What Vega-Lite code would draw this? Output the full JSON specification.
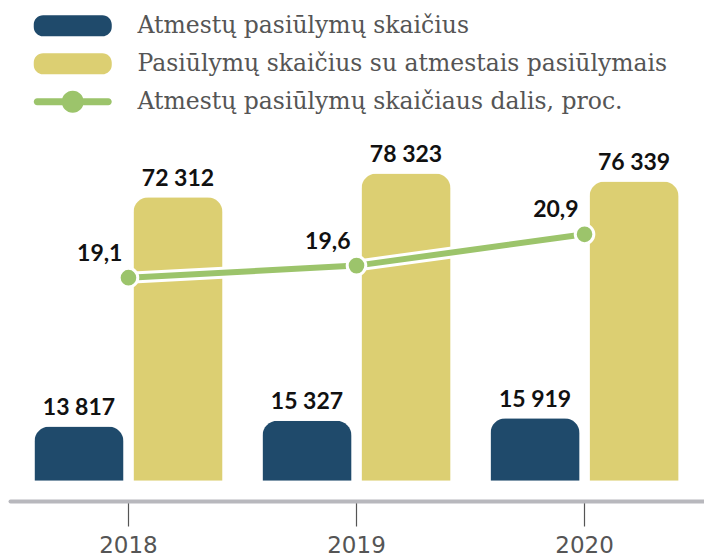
{
  "$schema": "https://vega.github.io/schema/vega-lite/v6.json",
  "width": 693,
  "height": 370,
  "autosize": {"type": "none"},
  "padding": {"left": 10, "top": 129, "right": 1, "bottom": 60},
  "config": {
    "view": {"stroke": null},
    "locale": {"number": {"decimal": ",", "thousands": " ", "grouping": [3], "currency": ["", " €"]}},
    "axisX": {
      "domainColor": "#b8b8bd", "domainWidth": 4, "domainCap": "round", "offset": 2,
      "tickColor": "#555555", "tickWidth": 1.2, "tickSize": 25,
      "labelFont": "DejaVu Sans", "labelFontSize": 23, "labelColor": "#555555", "labelPadding": 8, "labelAngle": 0,
      "grid": false, "title": null
    }
  },
  "datasets": {
    "bars": [
      {"year": "2018", "series": "Atmestų pasiūlymų skaičius", "value": 13817},
      {"year": "2018", "series": "Pasiūlymų skaičius su atmestais pasiūlymais", "value": 72312},
      {"year": "2019", "series": "Atmestų pasiūlymų skaičius", "value": 15327},
      {"year": "2019", "series": "Pasiūlymų skaičius su atmestais pasiūlymais", "value": 78323},
      {"year": "2020", "series": "Atmestų pasiūlymų skaičius", "value": 15919},
      {"year": "2020", "series": "Pasiūlymų skaičius su atmestais pasiūlymais", "value": 76339}
    ],
    "share": [
      {"year": "2018", "series": "Atmestų pasiūlymų skaičiaus dalis, proc.", "pct": 19.1},
      {"year": "2019", "series": "Atmestų pasiūlymų skaičiaus dalis, proc.", "pct": 19.6},
      {"year": "2020", "series": "Atmestų pasiūlymų skaičiaus dalis, proc.", "pct": 20.9}
    ]
  },
  "layer": [
    {
      "data": {"name": "bars"},
      "mark": {"type": "bar", "cornerRadiusTopLeft": 15, "cornerRadiusTopRight": 15},
      "encoding": {
        "x": {"field": "year", "type": "nominal", "title": null, "scale": {"paddingInner": 0.175, "paddingOuter": 0.107}},
        "xOffset": {"field": "series", "type": "nominal", "scale": {"domain": ["Atmestų pasiūlymų skaičius", "Pasiūlymų skaičius su atmestais pasiūlymais"], "paddingInner": 0.1, "paddingOuter": 0}},
        "y": {"field": "value", "type": "quantitative", "scale": {"domain": [-4640, 89700], "nice": false, "zero": false}, "axis": null},
        "y2": {"value": "height"},
        "color": {
          "field": "series", "type": "nominal",
          "scale": {"domain": ["Atmestų pasiūlymų skaičius", "Pasiūlymų skaičius su atmestais pasiūlymais", "Atmestų pasiūlymų skaičiaus dalis, proc."], "range": ["#1f4a6b", "#dccf72", "#9cc46b"]},
          "legend": {
            "orient": "none", "legendX": 23, "legendY": -115, "title": null, "padding": 0,
            "symbolSize": 484, "labelFont": "DejaVu Serif", "labelFontSize": 23.5, "labelColor": "#555555",
            "labelOffset": 81, "labelLimit": 700, "rowPadding": 13,
            "encode": {
              "symbols": {
                "update": {
                  "shape": {"signal": "datum.value == 'Atmestų pasiūlymų skaičiaus dalis, proc.' ? 'M -0.682 -0.318 L 5.773 -0.318 A 0.318 0.318 0 0 1 5.773 0.318 L -0.682 0.318 A 0.318 0.318 0 0 1 -0.682 -0.318 Z M 3.545 0 A 1 1 0 1 1 1.545 0 A 1 1 0 1 1 3.545 0 Z' : 'M -0.15 -0.9545 L 5.2409 -0.9545 A 0.85 0.85 0 0 1 6.0909 -0.1045 L 6.0909 0.1045 A 0.85 0.85 0 0 1 5.2409 0.9545 L -0.15 0.9545 A 0.85 0.85 0 0 1 -1 0.1045 L -1 -0.1045 A 0.85 0.85 0 0 1 -0.15 -0.9545 Z'"},
                  "fill": {"scale": "color", "field": "value"},
                  "stroke": {"value": "transparent"},
                  "strokeWidth": {"value": 0},
                  "opacity": {"value": 1}
                }
              }
            }
          }
        }
      }
    },
    {
      "data": {"name": "bars"},
      "mark": {"type": "text", "baseline": "alphabetic", "dy": -11.5, "font": "Lato", "fontWeight": "bold", "fontSize": 23, "color": "#111111"},
      "encoding": {
        "x": {"field": "year", "type": "nominal", "title": null},
        "xOffset": {"field": "series", "type": "nominal"},
        "y": {"field": "value", "type": "quantitative", "scale": {"domain": [-4640, 89700], "nice": false, "zero": false}, "axis": null},
        "text": {"field": "value", "type": "quantitative", "format": ",d"}
      }
    },
    {
      "data": {"name": "share"},
      "mark": {"type": "line", "strokeWidth": 12, "color": "white"},
      "encoding": {
        "x": {"field": "year", "type": "nominal", "title": null},
        "y": {"field": "pct", "type": "quantitative", "scale": {"domain": [9.904, 25.276], "nice": false, "zero": false}, "axis": null}
      }
    },
    {
      "data": {"name": "share"},
      "mark": {"type": "line", "strokeWidth": 6, "color": "#9cc46b"},
      "encoding": {
        "x": {"field": "year", "type": "nominal", "title": null},
        "y": {"field": "pct", "type": "quantitative", "scale": {"domain": [9.904, 25.276], "nice": false, "zero": false}, "axis": null}
      }
    },
    {
      "data": {"name": "share"},
      "mark": {"type": "circle", "size": 346, "color": "#9cc46b", "opacity": 1, "stroke": "white", "strokeWidth": 3},
      "encoding": {
        "x": {"field": "year", "type": "nominal", "title": null},
        "y": {"field": "pct", "type": "quantitative", "scale": {"domain": [9.904, 25.276], "nice": false, "zero": false}, "axis": null}
      }
    },
    {
      "data": {"name": "share"},
      "mark": {"type": "text", "align": "right", "baseline": "alphabetic", "dx": -6, "dy": -17, "font": "Lato", "fontWeight": "bold", "fontSize": 23, "color": "#111111"},
      "encoding": {
        "x": {"field": "year", "type": "nominal", "title": null},
        "y": {"field": "pct", "type": "quantitative", "scale": {"domain": [9.904, 25.276], "nice": false, "zero": false}, "axis": null},
        "text": {"field": "pct", "type": "quantitative", "format": ".1f"}
      }
    }
  ],
  "resolve": {"scale": {"y": "independent"}}
}
